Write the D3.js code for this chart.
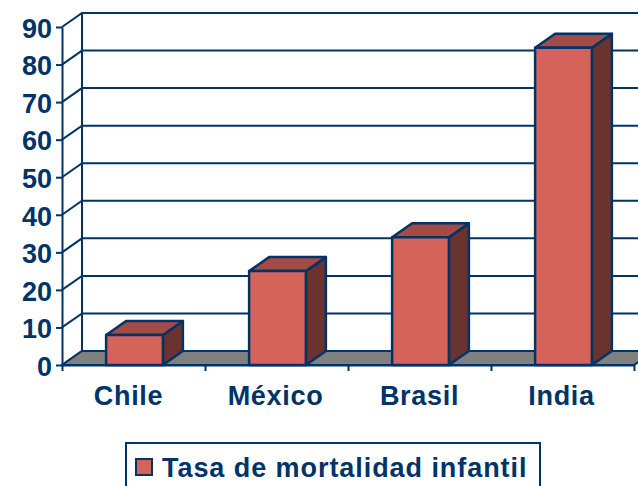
<!DOCTYPE html>
<html><head><meta charset="utf-8">
<script src="https://cdn.jsdelivr.net/npm/d3@7"></script>
<style>
html,body{margin:0;padding:0;background:#fff;overflow:hidden}
svg{display:block}
text{font-family:"Liberation Sans",Arial,sans-serif;font-weight:bold;fill:#003366}
</style></head><body>
<svg id="c" width="638" height="486"></svg>
<script>
const categories = ["Chile","México","Brasil","India"];
const seriesName = "Tasa de mortalidad infantil";
const values = [8,25,34,84.5];
const yTicks = [0,10,20,30,40,50,60,70,80,90];

const NAVY="#003366", FRONT="#d6635a", TOP="#a34c46", SIDE="#6b332f", FLOOR="#808080";
const dx=20, dy=-14;
const labelNudge=[-5,-1,0,-1];
const svg=d3.select("#c");
const x=d3.scaleBand().domain(categories).range([62,634]).paddingInner(0).paddingOuter(0);
const y=d3.scaleLinear().domain([0,90]).range([365,27]);
const barW=x.bandwidth()*0.397;
const line=d3.line();

const g=svg.append("g").attr("fill","none").attr("stroke",NAVY).attr("stroke-width",2);
yTicks.forEach(t=>{
  g.append("path").attr("d",line([[x.range()[0],y(t)],[x.range()[0]+dx,y(t)+dy],[x.range()[1]+dx,y(t)+dy]]));
});
g.append("path").attr("d",line([[x.range()[0]+dx,y(0)+dy],[x.range()[0]+dx,y(90)+dy]]));
svg.append("path").attr("fill",FLOOR).attr("stroke",NAVY).attr("stroke-width",2)
  .attr("d",line([[x.range()[0],y(0)],[x.range()[0]+dx,y(0)+dy],[x.range()[1]+dx,y(0)+dy],[x.range()[1],y(0)]])+"Z");

const bars=svg.selectAll("g.bar").data(values).join("g").attr("class","bar")
  .attr("stroke",NAVY).attr("stroke-width",2.5).attr("stroke-linejoin","round");
const bx=(d,i)=>x(categories[i])+(x.bandwidth()-barW)/2+1;
bars.append("path").attr("fill",SIDE).attr("d",(d,i)=>{const a=bx(d,i)+barW;
  return line([[a,y(0)],[a+dx,y(0)+dy],[a+dx,y(d)+dy],[a,y(d)]])+"Z";});
bars.append("path").attr("fill",TOP).attr("d",(d,i)=>{const a=bx(d,i);
  return line([[a,y(d)],[a+dx,y(d)+dy],[a+barW+dx,y(d)+dy],[a+barW,y(d)]])+"Z";});
bars.append("rect").attr("fill",FRONT).attr("x",bx).attr("y",d=>y(d)).attr("width",barW).attr("height",d=>y(0)-y(d));

const ay=svg.append("g").attr("transform","translate(62,0)")
  .call(d3.axisLeft(y).tickValues(yTicks).tickSize(6).tickPadding(4).tickSizeOuter(0));
ay.selectAll("path,line").attr("stroke",NAVY).attr("stroke-width",2);
ay.selectAll("text").style("font-size","27px").attr("dy","0.38em");

const tickPos=d3.scalePoint().domain(d3.range(categories.length+1)).range(x.range());
const ax=svg.append("g").attr("transform","translate(0,365)")
  .call(d3.axisBottom(tickPos).tickSize(6).tickFormat("").tickSizeOuter(0));
ax.selectAll("path,line").attr("stroke",NAVY).attr("stroke-width",2);
svg.selectAll("text.cat").data(categories).join("text").attr("class","cat")
  .attr("x",(d,i)=>x(d)+x.bandwidth()/2+labelNudge[i]).attr("y",405).attr("text-anchor","middle")
  .style("font-size","27px").style("letter-spacing","0.7px").text(d=>d);

const lg=svg.append("g");
lg.append("rect").attr("x",126).attr("y",443).attr("width",414).attr("height",50)
  .attr("fill","#fff").attr("stroke",NAVY).attr("stroke-width",2);
lg.append("rect").attr("x",136).attr("y",459).attr("width",16).attr("height",16)
  .attr("fill",FRONT).attr("stroke",NAVY).attr("stroke-width",2);
lg.append("text").attr("x",162).attr("y",477).style("font-size","27px").style("letter-spacing","0.94px").text(seriesName);
</script></body></html>
